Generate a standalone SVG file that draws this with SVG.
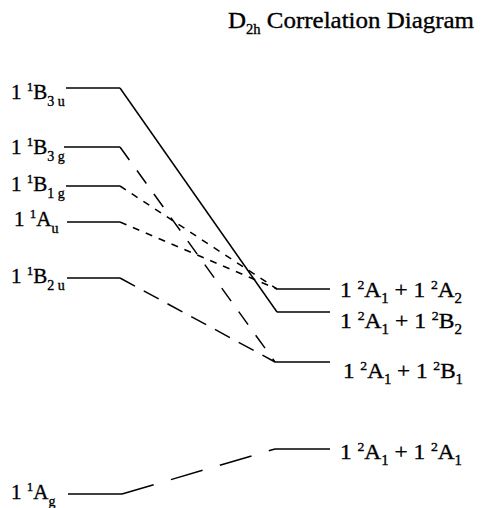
<svg xmlns="http://www.w3.org/2000/svg" width="484" height="508" viewBox="0 0 484 508" font-family="'Liberation Serif', 'DejaVu Serif', serif">
<style>
text{font-family:'Liberation Serif','DejaVu Serif',serif;fill:#000;stroke:#000;stroke-width:0.35}
.lab{font-size:21px}
.rlab{font-size:22px}
.sup{font-size:13px}
.sub{font-size:14px}
.lvl{stroke:#000;stroke-width:1.5;fill:none}
.con{stroke:#000;stroke-width:1.5;fill:none}
.d1{stroke-dasharray:16 13}
.d2{stroke-dasharray:7 7}
.d3{stroke-dasharray:17 10}
.d4{stroke-dasharray:33 18}
</style>
<rect width="484" height="508" fill="#fff"/>
<text id="title" x="228" y="28" font-size="24" textLength="246" lengthAdjust="spacingAndGlyphs">D<tspan class="sub" font-size="15" dy="6">2h</tspan><tspan dy="-6"> Correlation Diagram</tspan></text>
<g id="B3u"><line class="lvl" x1="66" y1="88" x2="120" y2="88"/><text class="lab" x="11" y="99">1 <tspan class="sup" dy="-8">1</tspan><tspan dy="8">B</tspan><tspan class="sub" dy="7">3 u</tspan></text></g>
<g id="B3g"><line class="lvl" x1="64" y1="147" x2="120" y2="147"/><text class="lab" x="11" y="154">1 <tspan class="sup" dy="-8">1</tspan><tspan dy="8">B</tspan><tspan class="sub" dy="7">3 g</tspan></text></g>
<g id="B1g"><line class="lvl" x1="66" y1="186" x2="120" y2="186"/><text class="lab" x="11" y="191">1 <tspan class="sup" dy="-8">1</tspan><tspan dy="8">B</tspan><tspan class="sub" dy="7">1 g</tspan></text></g>
<g id="Au"><line class="lvl" x1="67" y1="222" x2="120" y2="222"/><text class="lab" x="14" y="226">1 <tspan class="sup" dy="-8">1</tspan><tspan dy="8">A</tspan><tspan class="sub" dy="7">u</tspan></text></g>
<g id="B2u"><line class="lvl" x1="67" y1="278" x2="120" y2="278"/><text class="lab" x="11" y="283">1 <tspan class="sup" dy="-8">1</tspan><tspan dy="8">B</tspan><tspan class="sub" dy="7">2 u</tspan></text></g>
<g id="Ag"><line class="lvl" x1="68" y1="494" x2="122" y2="494"/><text class="lab" x="11" y="499">1 <tspan class="sup" dy="-8">1</tspan><tspan dy="8">A</tspan><tspan class="sub" dy="7">g</tspan></text></g>
<g id="A1A2"><line class="lvl" x1="277" y1="289" x2="330" y2="289"/><text class="rlab" x="340" y="297" textLength="122" lengthAdjust="spacingAndGlyphs">1 <tspan class="sup" dy="-8">2</tspan><tspan dy="8">A</tspan><tspan class="sub" dy="6">1</tspan><tspan dy="-6"> + 1 </tspan><tspan class="sup" dy="-8">2</tspan><tspan dy="8">A</tspan><tspan class="sub" dy="6">2</tspan></text></g>
<g id="A1B2"><line class="lvl" x1="277" y1="312" x2="330" y2="312"/><text class="rlab" x="340" y="328" textLength="122" lengthAdjust="spacingAndGlyphs">1 <tspan class="sup" dy="-8">2</tspan><tspan dy="8">A</tspan><tspan class="sub" dy="6">1</tspan><tspan dy="-6"> + 1 </tspan><tspan class="sup" dy="-8">2</tspan><tspan dy="8">B</tspan><tspan class="sub" dy="6">2</tspan></text></g>
<g id="A1B1"><line class="lvl" x1="275" y1="362" x2="330" y2="362"/><text class="rlab" x="343" y="378" textLength="120" lengthAdjust="spacingAndGlyphs">1 <tspan class="sup" dy="-8">2</tspan><tspan dy="8">A</tspan><tspan class="sub" dy="6">1</tspan><tspan dy="-6"> + 1 </tspan><tspan class="sup" dy="-8">2</tspan><tspan dy="8">B</tspan><tspan class="sub" dy="6">1</tspan></text></g>
<g id="A1A1"><line class="lvl" x1="275" y1="449" x2="330" y2="449"/><text class="rlab" x="340" y="459" textLength="122" lengthAdjust="spacingAndGlyphs">1 <tspan class="sup" dy="-8">2</tspan><tspan dy="8">A</tspan><tspan class="sub" dy="6">1</tspan><tspan dy="-6"> + 1 </tspan><tspan class="sup" dy="-8">2</tspan><tspan dy="8">A</tspan><tspan class="sub" dy="6">1</tspan></text></g>
<g id="connectors">
<line class="con" x1="120" y1="88" x2="277" y2="312"/>
<line class="con d1" x1="120" y1="147" x2="275" y2="362"/>
<line class="con d2" x1="120" y1="186" x2="277" y2="289"/>
<line class="con d2" x1="120" y1="222" x2="277" y2="289"/>
<line class="con d3" x1="120" y1="278" x2="275" y2="362"/>
<line class="con d4" x1="122" y1="494" x2="275" y2="449"/>
</g>
</svg>
